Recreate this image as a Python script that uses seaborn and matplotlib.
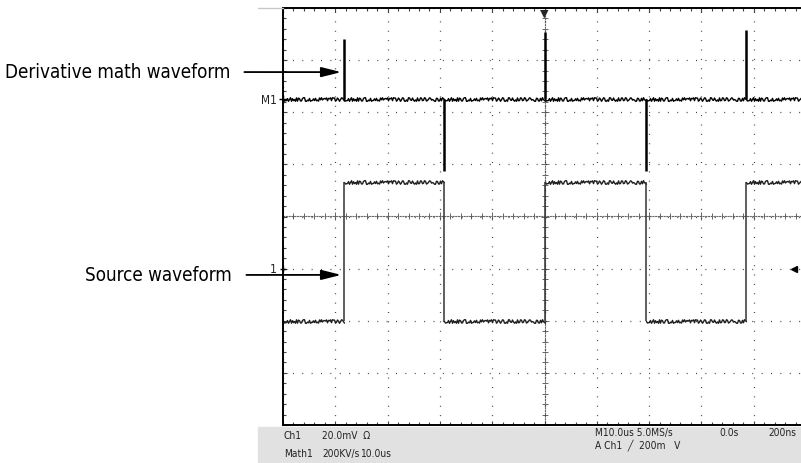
import numpy as np
import pandas as pd
import seaborn as sns
import matplotlib.pyplot as plt
from matplotlib.patches import Rectangle

# scope screen values, in divisions (10 across, 8 high, cut at the right)
edge_t = [1.17, 3.08, 5.0, 6.94, 8.85]     # edges of the source square wave
src_low = -2.0
src_high = 0.66
src_ground = -1.0
m1_level = 2.25
spike_peak = [3.4, 0.87, 3.54, 0.87, 3.57]  # derivative spike at each edge
x_end = 9.9

bottom_row1 = [('Ch1', 284), ('20.0mV  \u03a9', 322)]
bottom_row1r = [('M10.0us 5.0MS/s', 595), ('0.0s', 719), ('200ns', 768)]
bottom_row2 = [('Math1', 284), ('200KV/s', 322), ('10.0us', 361)]

# flat parts of both traces, one segment between each pair of edges
bounds = [0.0] + edge_t + [x_end]
rows = []
level = src_low
for i in range(len(bounds) - 1):
    for t in (bounds[i], bounds[i + 1]):
        rows.append({'seg': i, 't': t, 'src': level, 'm1': m1_level})
    level = src_high if level == src_low else src_low
flat = pd.DataFrame(rows)

sns.set_style("white")
plt.rcParams['font.family'] = ['DejaVu Sans']

fig = plt.figure(figsize=(8.01, 4.64), dpi=100)
ax = fig.add_axes([283/801, 38/464, 518/801, 417/464])

sns.lineplot(data=flat, x='t', y='m1', units='seg', estimator=None, color='black', lw=1.0, ax=ax)
sns.lineplot(data=flat, x='t', y='src', units='seg', estimator=None, color='#1e1e1e', lw=1.0, ax=ax)
for ln in ax.lines:
    ln.set_sketch_params(1.8, 2.0, 3)

# vertical edges of the source and spikes of the derivative
ax.vlines(edge_t, src_low, src_high, color='#333333', lw=1.1)
ax.vlines(edge_t, m1_level, spike_peak, color='black', lw=1.8)

ax.set_xlim(0, 518/52.3)
ax.set_ylim(-4, 4)
ax.set_xlabel('')
ax.set_ylabel('')

# dotted graticule
ax.set_xticks(np.arange(0, 10, 1))
ax.set_yticks(np.arange(-4, 5, 1))
ax.set_xticks(np.arange(0, 10, 0.2), minor=True)
ax.set_yticks(np.arange(-4, 4.01, 0.2), minor=True)
ax.grid(which='major', color='#444444', lw=0.9, linestyle=(0, (0.8, 6.7)))
ax.tick_params(which='both', direction='in', labelleft=False, labelbottom=False,
               top=True, left=True, bottom=True, right=False, color='#444444')
ax.tick_params(which='major', length=3, width=0.8)
ax.tick_params(which='minor', length=2, width=0.8)
for s in ['left', 'top', 'bottom']:
    ax.spines[s].set_color('black')
    ax.spines[s].set_linewidth(1.4)
ax.spines['right'].set_visible(False)

# centre cross with small ticks
cx = 5 / ax.get_xlim()[1]
sx = ax.secondary_xaxis(0.5)
sy = ax.secondary_yaxis(cx)
for sa in (sx, sy):
    for sp in sa.spines.values():
        sp.set_linestyle((0, (1, 1.5)))
        sp.set_color('#666666')
        sp.set_linewidth(0.8)
    sa.tick_params(which='both', direction='inout', color='#666666', width=0.7)
    sa.tick_params(which='major', length=6)
    sa.tick_params(which='minor', length=4)
sx.set_xticks(np.arange(0, 10, 1), labels=[])
sx.set_xticks(np.arange(0, 10, 0.2), minor=True)
sy.set_yticks(np.arange(-4, 5, 1), labels=[])
sy.set_yticks(np.arange(-4, 4.01, 0.2), minor=True)

# trigger position and channel markers
ax.annotate('\u25bc', xy=(5, 1), xycoords=('data', 'axes fraction'), ha='center', va='top',
            fontsize=8, annotation_clip=False)
ax.plot([0], [m1_level], marker='+', color='black', ms=6, clip_on=False)
ax.plot([0], [src_ground], marker='+', color='black', ms=5, clip_on=False)
ax.text(-0.12, m1_level, 'M1', ha='right', va='center', fontsize=8.5, stretch='condensed',
        color='#222222')
ax.text(-0.12, src_ground, '1', ha='right', va='center', fontsize=8.5, stretch='condensed',
        color='#222222')
ax.plot([x_end - 0.12], [src_ground], marker='<', color='black', ms=5, clip_on=False)

# callouts
arrow = dict(arrowstyle='-|>,head_length=1.2,head_width=0.3', color='black', lw=1.3,
             mutation_scale=10, shrinkA=8, shrinkB=1)
label = dict(textcoords='figure pixels', ha='right', va='center', fontsize=13.5,
             stretch='condensed', color='black', arrowprops=arrow)
ax.annotate('Derivative math waveform', xy=(edge_t[0] - 0.03, 2.77), xycoords='data',
            xytext=(230, 391), **label)
ax.annotate('Source waveform', xy=(edge_t[0] - 0.03, -1.12), xycoords='data',
            xytext=(232, 188), **label)

# readout strip
fig.patches.append(Rectangle((258/801, 0), 1, 36/464, transform=fig.transFigure,
                             color='#e1e1e1', zorder=0))
fig.lines.append(plt.Line2D([258/801, 283/801], [455/464, 455/464], transform=fig.transFigure,
                            color='#c8c8c8', lw=1))
strip = dict(fontsize=7.3, va='center', color='#222222', stretch='condensed')
for txt, x in bottom_row1:
    fig.text(x/801, 28/464, txt, **strip)
for txt, x in bottom_row1r:
    fig.text(x/801, 31/464, txt, **strip)
for txt, x in bottom_row2:
    fig.text(x/801, 10/464, txt, **strip)
fig.text(595/801, 19/464, 'A Ch1  \u2571  200m   V', **strip)

plt.savefig('out.png', dpi=100)
